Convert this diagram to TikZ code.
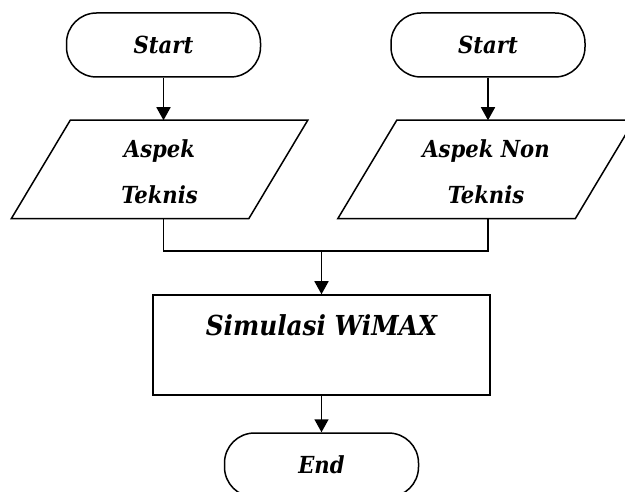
\documentclass[tikz,border=0pt]{standalone}
\usepackage{fontspec}
\setmainfont{DejaVu Serif Condensed}
\usetikzlibrary{arrows.meta,calc}
\begin{document}
\begin{tikzpicture}[x=1pt,y=-1pt,
  line width=1.5pt,
  term/.style={draw, rounded corners=30pt, minimum width=194pt, minimum height=64pt, inner sep=0pt,
    font=\fontsize{23.5}{28}\selectfont\bfseries\itshape},
  iotext/.style={minimum width=236pt, minimum height=97pt, inner sep=0pt, align=center,
    font=\fontsize{23.5}{46}\selectfont\bfseries\itshape},
  procbox/.style={draw, minimum width=337pt, minimum height=100pt, inner sep=0pt},
  proctext/.style={inner sep=0pt, font=\fontsize{27.5}{34}\selectfont\bfseries\itshape},
  arr/.style={-{Triangle[length=13pt,width=14pt]}},
]
\useasboundingbox (0,0) rectangle (625,492);
\fill[white] (0,0) rectangle (625,492);

% terminals
\node[term] (s1) at (163.5,45) {Start};
\node[term] (s2) at (488,45) {Start};

% input/output (parallelograms)
\node[iotext] (p1) at (159.5,171.5) {Aspek\\Teknis};
\node[iotext] (p2) at (486,171.5) {Aspek Non\\Teknis};
\foreach \p in {p1,p2}{
  \draw ($(\p.south west)+(-29.5,-2)$) -- ($(\p.south east)+(-29.5,-2)$)
     -- ($(\p.north east)+(29.5,-2)$) -- ($(\p.north west)+(29.5,-2)$) -- cycle;
}

% process
\node[procbox] (b) at (321.5,345) {};
\node[proctext] (bt) at (321.5,325) {Simulasi WiMAX};

% end
\node[term] (e) at (321.5,465) {End};

% join point
\coordinate (j) at (321.5,251);

% connectors
\draw[arr] (s1.south) -- ($(s1.south |- p1.north)+(0,-2)$);
\draw[arr] (s2.south) -- ($(s2.south |- p2.north)+(0,-2)$);
\draw ($(p1.south -| s1.south)+(0,-2)$) -- (s1.south |- j) -- (s2.south |- j) -- ($(p2.south -| s2.south)+(0,-2)$);
\draw[arr] (j) -- (b.north);
\draw[arr] (b.south) -- (e.north);
\end{tikzpicture}
\end{document}
